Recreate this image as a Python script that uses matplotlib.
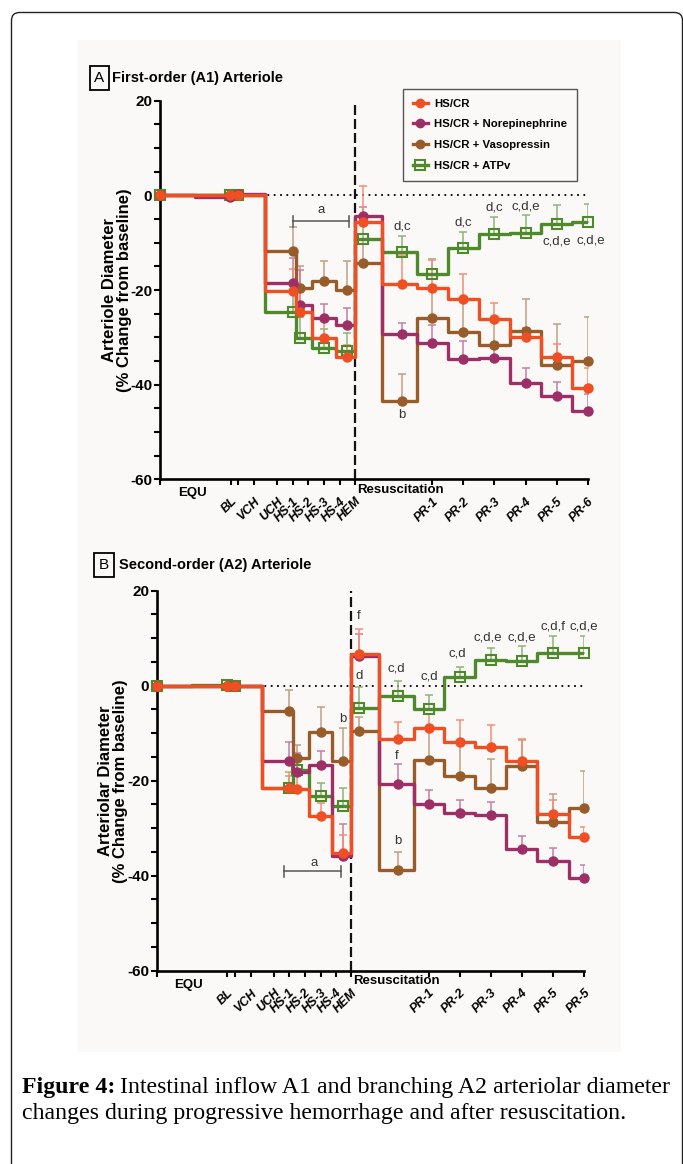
import numpy as np
import matplotlib
matplotlib.use('Agg')
import matplotlib.pyplot as plt
from matplotlib import font_manager
from matplotlib.patches import FancyBboxPatch, Rectangle
from matplotlib.lines import Line2D
from matplotlib.ticker import MultipleLocator, FixedLocator
from matplotlib.font_manager import FontProperties

# ---------------- data ----------------
time_points = [0, 70, 78, 132.5, 140, 164, 187, 202.5, 242, 272.5, 303.3, 334.5, 365.7, 396.7, 428]
tick_positions = [0, 70.7, 78.3, 94.3, 117, 132.5, 148, 164, 179.5, 194.7,
                  272.5, 303.3, 334.5, 365.7, 396.7, 428]
tick_labels_a = ['', 'BL', '', 'VCH', 'UCH', 'HS-1', 'HS-2', 'HS-3', 'HS-4', 'HEM',
                 'PR-1', 'PR-2', 'PR-3', 'PR-4', 'PR-5', 'PR-6']
tick_labels_b = ['', 'BL', '', 'VCH', 'UCH', 'HS-1', 'HS-2', 'HS-3', 'HS-4', 'HEM',
                 'PR-1', 'PR-2', 'PR-3', 'PR-4', 'PR-5', 'PR-5']
series_labels = ['HS/CR', 'HS/CR + Norepinephrine', 'HS/CR + Vasopressin', 'HS/CR + ATPv']

# Panel A: first-order (A1) arteriole, % change from baseline
a1_hscr = [0, 0, 0, -20.3, -24.7, -30.1, -34.1, -5.6, -18.7, -19.5, -21.9, -26.1, -30.0, -34.2, -40.8]
a1_nor = [0, -0.3, 0.2, -18.6, -23.2, -26.0, -27.3, -4.4, -29.4, -31.1, -34.5, -34.3, -39.6, -42.5, -45.6]
a1_vaso = [0, 0, 0, -11.8, -19.5, -18.1, -20.0, -14.2, -43.5, -25.9, -28.9, -31.7, -28.7, -35.9, -34.9]
a1_atpv = [0, 0, 0, -24.7, -30.1, -32.2, -32.9, -9.2, -11.9, -16.7, -11.1, -8.1, -7.9, -6.0, -5.6]
a1_hscr_err = [0, 0, 0, 4.8, 4.5, 4.5, 2.5, 7.5, 6.0, 5.9, 5.2, 3.4, 2.0, 2.7, 4.4]
a1_nor_err = [0, 0, 0, 5.4, 7.5, 3.1, 3.5, 2.0, 2.5, 3.8, 3.7, 2.0, 3.2, 3.1, 3.6]
a1_vaso_err = [0, 0, 0, 5.1, 4.5, 4.3, 6.1, 5.0, 5.8, 6.0, 6.5, 5.0, 6.9, 8.8, 9.2]
a1_atpv_err = [0, 0, 0, 4.0, 4.5, 4.0, 3.9, 3.0, 3.3, 3.3, 3.3, 3.5, 3.8, 3.9, 3.8]

# Panel B: second-order (A2) arteriole
a2_hscr = [0, 0, 0, -21.5, -21.7, -27.5, -35.2, 6.6, -11.2, -8.9, -11.9, -12.9, -15.9, -27.0, -31.9]
a2_nor = [0, 0, 0, -15.9, -18.2, -16.6, -35.9, 6.3, -20.7, -24.9, -26.8, -27.2, -34.4, -37.0, -40.5]
a2_vaso = [0, 0, 0, -5.3, -15.2, -9.8, -15.8, -9.6, -38.9, -15.7, -19.1, -21.5, -17.0, -28.6, -25.7]
a2_atpv = [0, 0.2, 0, -21.5, -17.8, -23.3, -25.3, -4.7, -2.1, -4.8, 1.8, 5.5, 5.1, 6.9, 6.9]
a2_hscr_err = [0, 0, 0, 3.3, 3.0, 2.8, 3.8, 5.3, 3.5, 3.0, 4.7, 4.7, 4.7, 3.0, 2.1]
a2_nor_err = [0, 0, 0, 4.0, 4.0, 2.9, 6.8, 4.5, 4.2, 3.0, 2.8, 2.7, 2.8, 2.8, 2.8]
a2_vaso_err = [0, 0, 0, 4.5, 2.8, 5.3, 6.9, 3.0, 3.8, 7.0, 7.0, 6.1, 5.6, 5.9, 7.8]
a2_atpv_err = [0, 0, 0, 2.4, 2.3, 2.9, 3.8, 4.4, 3.0, 2.8, 2.1, 2.4, 3.2, 3.6, 3.5]

# significance annotations (text, x, y)
notes_a = [('d,c', 242, -6.5), ('d,c', 303.3, -5.8), ('d,c', 334.5, -2.6), ('c,d,e', 365.7, -2.3),
           ('c,d,e', 396.7, -9.8), ('c,d,e', 431, -9.6), ('b', 242, -46.5)]
notes_b = [('f', 202.5, 14.6), ('d', 202.5, 2.0), ('b', 186, -7.0), ('c,d', 240, 3.6),
           ('c,d', 273, 2.0), ('c,d', 301, 6.7), ('c,d,e', 332, 10.2), ('c,d,e', 366, 10.2),
           ('c,d,f', 396.5, 12.5), ('c,d,e', 427.5, 12.5), ('f', 240, -14.9), ('b', 241, -32.6)]

# ---------------- style ----------------
names = {f.name for f in font_manager.fontManager.ttflist}
FONT = 'Liberation Sans Narrow' if 'Liberation Sans Narrow' in names else 'Liberation Sans'
SERIF = 'Liberation Serif' if 'Liberation Serif' in names else 'DejaVu Serif'
plt.rcParams['font.family'] = [FONT, 'DejaVu Sans']
plt.rcParams['axes.unicode_minus'] = False

colors = ['#F04E23', '#9E2F66', '#985C2A', '#4E8A2C']
err_colors = ['#F38F78', '#C47FA0', '#C0A084', '#8DB57A']
markers = ['o', 'o', 'o', 's']

W, H = 683, 1164
fig = plt.figure(figsize=(W / 100, H / 100), dpi=100)
fig.patch.set_facecolor('white')

fig.add_artist(Rectangle((77 / W, 1 - 1052 / H), (621 - 77) / W, (1052 - 40) / H,
                         transform=fig.transFigure, fc='#FAF9F7', ec='none', zorder=-10))
fig.add_artist(FancyBboxPatch((0.115, -0.5), 6.71, 12.015, boxstyle='round,pad=0,rounding_size=0.08',
                              transform=fig.dpi_scale_trans, fill=False, ec='#222222', lw=1.0, zorder=-5))


def make_panel(rect, means, errs, ticklabels, ylabel):
    ax = fig.add_axes(rect)
    ax.set_facecolor('none')
    x = np.array(time_points, dtype=float)
    ax.set_xlim(0, 428)
    ax.set_ylim(-60, 20)
    ax.axhline(0, color='black', lw=1.3, ls=(0, (1, 2.5)), zorder=1)
    ax.plot([194.7, 194.7], [-60, 20], color='#111111', lw=1.6, ls=(0, (4.5, 1.8)), zorder=1.5)
    order = [3, 2, 1, 0]
    for i in order:
        m = np.array(means[i], dtype=float)
        e = np.array(errs[i], dtype=float)
        k = e > 0
        ax.errorbar(x[k], m[k], yerr=[np.zeros(k.sum()), e[k]], fmt='none', ecolor=err_colors[i],
                    elinewidth=1.1, capsize=3, capthick=1.1, zorder=2)
    for n, i in enumerate(order):
        m = np.array(means[i], dtype=float)
        ax.plot(x, m, drawstyle='steps-mid', color=colors[i], lw=2.4, zorder=3 + n)
        if markers[i] == 's':
            ax.plot(x, m, ls='none', marker='s', ms=7.5, mfc='none', mec=colors[i], mew=1.5,
                    zorder=3.5 + n, clip_on=False)
        else:
            ax.plot(x, m, ls='none', marker='o', ms=6.5, mfc=colors[i], mec=colors[i],
                    zorder=3.5 + n, clip_on=False)
    for s in ['top', 'right']:
        ax.spines[s].set_visible(False)
    for s in ['left', 'bottom']:
        ax.spines[s].set_linewidth(1.9)
    ax.yaxis.set_major_locator(FixedLocator([-60, -40, -20, 0, 20]))
    ax.yaxis.set_minor_locator(MultipleLocator(5))
    ax.tick_params(axis='y', which='both', direction='out', length=4.5, width=1.5, pad=1,
                   labelsize=11)
    for t in ax.get_yticklabels():
        t.set_fontweight('bold')
    ax.set_xticks(tick_positions)
    ax.set_xticklabels(ticklabels, rotation=45, ha='right', va='top', rotation_mode='anchor',
                       fontstyle='italic', fontweight='bold', fontsize=9)
    ax.tick_params(axis='x', direction='out', length=4.5, width=1.5, pad=7)
    ax.set_ylabel(ylabel, fontweight='bold', fontsize=12, linespacing=1.0)
    ax.yaxis.set_label_coords(-0.066, 0.5)
    ax.annotate('EQU', xy=(32, 0), xycoords=('data', 'axes fraction'), xytext=(0, -10),
                textcoords='offset points', ha='center', va='center', fontsize=9.5, fontweight='bold')
    ax.annotate('Resuscitation', xy=(197, 0), xycoords=('data', 'axes fraction'), xytext=(0, -7.5),
                textcoords='offset points', ha='left', va='center', fontsize=9.5, fontweight='bold')
    return ax


axA = make_panel([160 / W, 1 - 479.3 / H, 428 / W, 378.6 / H],
                 [a1_hscr, a1_nor, a1_vaso, a1_atpv],
                 [a1_hscr_err, a1_nor_err, a1_vaso_err, a1_atpv_err],
                 tick_labels_a, 'Arteriole Diameter\n(% Change from baseline)')
axB = make_panel([156.7 / W, 1 - 970.7 / H, 427.5 / W, 380 / H],
                 [a2_hscr, a2_nor, a2_vaso, a2_atpv],
                 [a2_hscr_err, a2_nor_err, a2_vaso_err, a2_atpv_err],
                 tick_labels_b, 'Arteriolar Diameter\n(% Change from baseline)')

# brackets "a"
for ax, x1, x2, yb, xl, yl in [(axA, 132.5, 189, -5.5, 161, -3.2), (axB, 127.3, 185, -39.1, 157.5, -37.4)]:
    ax.plot([x1, x2], [yb, yb], color='#555555', lw=1.1, zorder=2)
    ax.plot([x1, x1], [yb - 1.2, yb + 1.2], color='#555555', lw=1.1, zorder=2)
    ax.plot([x2, x2], [yb - 1.2, yb + 1.2], color='#555555', lw=1.1, zorder=2)
    ax.text(xl, yl, 'a', ha='center', va='center', fontsize=9.5, color='#333333')

for ax, notes in [(axA, notes_a), (axB, notes_b)]:
    for txt, xx, yy in notes:
        ax.text(xx, yy, txt, ha='center', va='center', fontsize=9.5, color='#333333', zorder=10)

# legend
handles = []
for i in range(4):
    if markers[i] == 's':
        h = Line2D([], [], color=colors[i], lw=2.4, marker='s', ms=7, mfc='none', mec=colors[i], mew=1.5)
    else:
        h = Line2D([], [], color=colors[i], lw=2.4, marker='o', ms=6, mfc=colors[i], mec=colors[i])
    handles.append(h)
leg = axA.legend(handles, series_labels, loc='upper left', bbox_to_anchor=(0.568, 1.031),
                 frameon=True, fancybox=False, edgecolor='#555555', facecolor='#FAF9F7', framealpha=1,
                 prop=FontProperties(family=FONT, weight='bold', size=8.2),
                 handlelength=1.3, handletextpad=0.6, borderpad=0.85, labelspacing=0.95, borderaxespad=0)
leg.get_frame().set_linewidth(1.0)
leg.set_zorder(20)

# panel titles
for lx, tx, ty, letter, title in [(99.5, 112, 78, 'A', 'First-order (A1) Arteriole'),
                                  (104, 119, 565, 'B', 'Second-order (A2) Arteriole')]:
    fig.text(lx / W, 1 - ty / H, letter, ha='center', va='center', fontsize=11,
             bbox=dict(boxstyle='square,pad=0.3', fc='none', ec='black', lw=1.3))
    fig.text(tx / W, 1 - ty / H, title, ha='left', va='center', fontsize=10.5, fontweight='bold')

# caption
def caption(size):
    t1 = fig.text(22 / W, 1 - 1093 / H, 'Figure 4:', fontsize=size, fontweight='bold',
                  family=SERIF, va='baseline', ha='left')
    fig.canvas.draw()
    r = fig.canvas.get_renderer()
    bb = t1.get_window_extent(r)
    t2 = fig.text((bb.x1 + 5) / W, 1 - 1093 / H,
                  'Intestinal inflow A1 and branching A2 arteriolar diameter',
                  fontsize=size, family=SERIF, va='baseline', ha='left')
    t3 = fig.text(22 / W, 1 - 1119 / H,
                  'changes during progressive hemorrhage and after resuscitation.',
                  fontsize=size, family=SERIF, va='baseline', ha='left')
    fig.canvas.draw()
    return [t1, t2, t3], t2.get_window_extent(r).x1

arts, right = caption(14)
scale = (675 - 22) / (right - 22)
for a in arts:
    a.remove()
caption(14 * scale)

fig.savefig('out.png', dpi=100, facecolor='white')
